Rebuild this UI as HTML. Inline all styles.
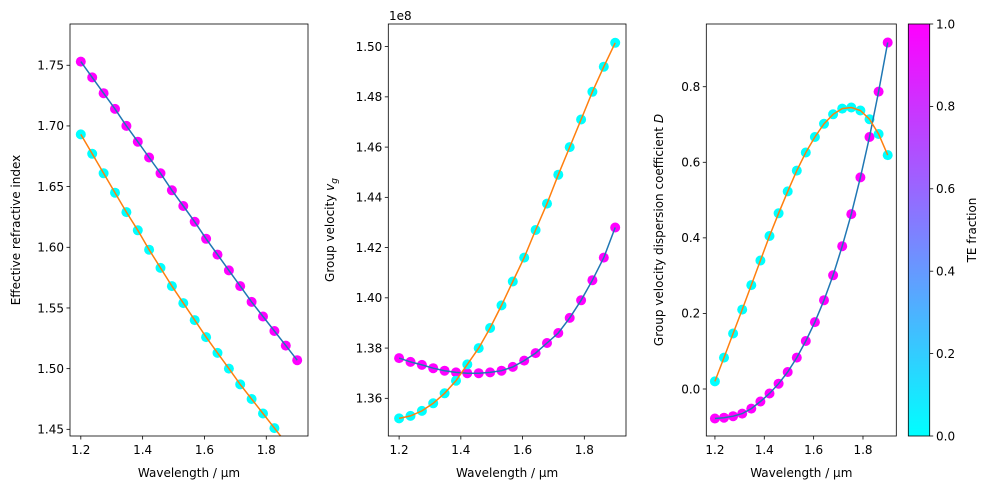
<!DOCTYPE html>
<html><head><meta charset="utf-8"><style>
body{margin:0;background:#fff;}
svg{display:block;font-family:"DejaVu Sans","Liberation Sans",sans-serif;}
</style></head><body>
<svg id="s" width="989" height="489" viewBox="0 0 989 489" xmlns="http://www.w3.org/2000/svg">
<defs><linearGradient id="cb" x1="0" y1="1" x2="0" y2="0"><stop offset="0" stop-color="#00ffff"/><stop offset="1" stop-color="#ff00ff"/></linearGradient></defs>
</svg>
<script>
var s=document.getElementById('s');var h='';
var wl=[];for(var i=0;i<20;i++)wl.push(1.2+0.7*i/19);
function panel(L,R,T,B,ymin,ymax,yt,yfmt,A,Bd,ylab){
 var xmin=1.165,xmax=1.935;
 var X=function(v){return L+(v-xmin)/(xmax-xmin)*(R-L)};
 var Y=function(v){return B-(v-ymin)/(ymax-ymin)*(B-T)};
 h+='<svg x="'+L+'" y="'+T+'" width="'+(R-L)+'" height="'+(B-T)+'" overflow="hidden"><g transform="translate('+(-L)+','+(-T)+')">';
 [[A,'#ff00ff','#1f77b4'],[Bd,'#00ffff','#ff7f0e']].forEach(function(d){
  var p='';d[0].forEach(function(v,i){h+='<circle cx="'+X(wl[i]).toFixed(1)+'" cy="'+Y(v).toFixed(1)+'" r="5" fill="'+d[1]+'"/>';p+=(i?'L':'M')+X(wl[i]).toFixed(1)+' '+Y(v).toFixed(1)});
  d.p=p;});
 [[A,'#1f77b4'],[Bd,'#ff7f0e']].forEach(function(d){var p='';d[0].forEach(function(v,i){p+=(i?'L':'M')+X(wl[i]).toFixed(1)+' '+Y(v).toFixed(1)});h+='<path d="'+p+'" fill="none" stroke="'+d[1]+'" stroke-width="1.5"/>';});
 h+='</g></svg>';
 h+='<rect x="'+L+'" y="'+T+'" width="'+(R-L)+'" height="'+(B-T)+'" fill="none" stroke="#000" stroke-width="0.8"/>';
 [1.2,1.4,1.6,1.8].forEach(function(v){var x=X(v);h+='<line x1="'+x+'" y1="'+B+'" x2="'+x+'" y2="'+(B+3.5)+'" stroke="#000" stroke-width="0.8"/><text x="'+x+'" y="'+(B+18)+'" font-size="12" text-anchor="middle">'+v.toFixed(1)+'</text>';});
 yt.forEach(function(v){var y=Y(v);h+='<line x1="'+(L-3.5)+'" y1="'+y+'" x2="'+L+'" y2="'+y+'" stroke="#000" stroke-width="0.8"/><text x="'+(L-6)+'" y="'+(y+4.3)+'" font-size="12" text-anchor="end">'+v.toFixed(yfmt)+'</text>';});
 h+='<text x="'+((L+R)/2)+'" y="477" font-size="12" text-anchor="middle">Wavelength / µm</text>';
 h+=ylab;
}
panel(70,308,24,436,1.4445,1.784,[1.45,1.5,1.55,1.6,1.65,1.7,1.75],2,
[1.753,1.740,1.727,1.714,1.700,1.687,1.674,1.661,1.647,1.634,1.621,1.607,1.594,1.581,1.568,1.555,1.543,1.531,1.519,1.507],
[1.693,1.677,1.661,1.645,1.629,1.614,1.598,1.583,1.568,1.554,1.540,1.526,1.513,1.500,1.487,1.475,1.463,1.451,1.439,1.428],
'<text transform="translate(20,230) rotate(-90)" font-size="12" text-anchor="middle">Effective refractive index</text>');
panel(388.3,626,24,436,1.345,1.509,[1.36,1.38,1.40,1.42,1.44,1.46,1.48,1.50],2,
[1.376,1.3745,1.3733,1.372,1.371,1.3703,1.370,1.370,1.3703,1.371,1.3725,1.375,1.378,1.382,1.386,1.392,1.399,1.407,1.416,1.428],
[1.352,1.353,1.355,1.358,1.362,1.367,1.3735,1.380,1.388,1.397,1.4065,1.416,1.427,1.4375,1.449,1.460,1.471,1.482,1.492,1.5015],
'<text transform="translate(334,230) rotate(-90)" font-size="12" text-anchor="middle">Group velocity <tspan font-style="italic">v</tspan><tspan font-style="italic" font-size="9" dy="3">g</tspan></text><text x="389" y="20" font-size="12">1e8</text>');
panel(706.3,896.3,24,436,-0.1244,0.966,[0,0.2,0.4,0.6,0.8],1,
[-0.078,-0.076,-0.072,-0.065,-0.052,-0.033,-0.012,0.014,0.045,0.083,0.127,0.177,0.235,0.301,0.378,0.463,0.560,0.667,0.787,0.917],
[0.02,0.083,0.147,0.21,0.275,0.34,0.405,0.465,0.523,0.578,0.626,0.667,0.702,0.727,0.742,0.745,0.737,0.714,0.675,0.619],
'<text transform="translate(663,230) rotate(-90)" font-size="12" text-anchor="middle">Group velocity dispersion coefficient <tspan font-style="italic">D</tspan></text>');
// colorbar
h+='<rect x="908.3" y="24" width="21.4" height="412" fill="url(#cb)" stroke="#000" stroke-width="0.8"/>';
for(var k=0;k<=5;k++){var y=436-k*412/5;h+='<line x1="929.7" y1="'+y+'" x2="933.2" y2="'+y+'" stroke="#000" stroke-width="0.8"/><text x="936" y="'+(y+4.3)+'" font-size="12">'+(k/5).toFixed(1)+'</text>';}
h+='<text transform="translate(976,230) rotate(-90)" font-size="12" text-anchor="middle">TE fraction</text>';
s.insertAdjacentHTML('beforeend',h);
</script>
</body></html>
